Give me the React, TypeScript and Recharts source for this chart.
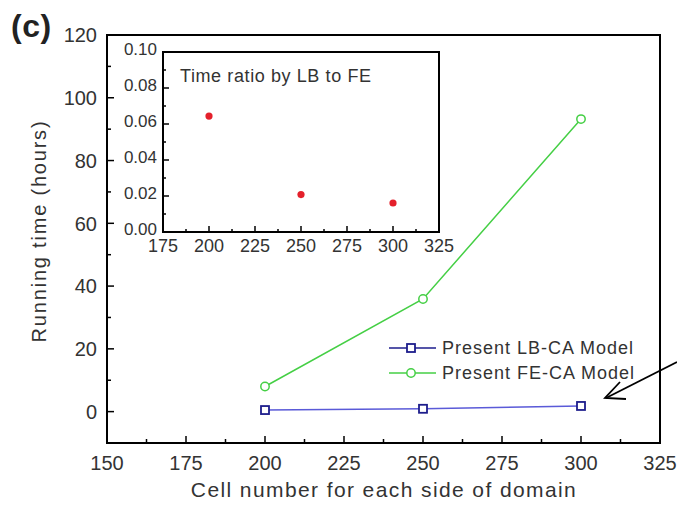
import React from "react";
import {
  LineChart,
  Line,
  XAxis,
  YAxis,
  ReferenceArea,
  Legend,
} from "recharts";

// Main chart: running time (hours) vs. cell number per side
const cellNumbers = [200, 250, 300];
const lbHours = [0.5, 0.9, 1.8];
const feHours = [8.0, 35.9, 93.2];

// Inset: time ratio LB / FE
const ratioValues = [0.0644, 0.0208, 0.0161];

const mainXTicks = [150, 162.5, 175, 187.5, 200, 212.5, 225, 237.5, 250, 262.5, 275, 287.5, 300, 312.5, 325];
const mainYTicks = [-10, 0, 10, 20, 30, 40, 50, 60, 70, 80, 90, 100, 110, 120];
const insetXTicks = [175, 187.5, 200, 212.5, 225, 237.5, 250, 262.5, 275, 287.5, 300, 312.5, 325];
const insetYTicks = [0, 0.01, 0.02, 0.03, 0.04, 0.05, 0.06, 0.07, 0.08, 0.09, 0.1];

const FONT = '"Liberation Sans", Arial, sans-serif';
const TEXT = "#333";
const GREEN = "#45cf45";
const BLUE_LINE = "#5a5ad8";
const NAVY = "#1d1d8c";
const RED = "#e4202b";

const mainData = cellNumbers.map((n, i) => ({ n, lb: lbHours[i], fe: feHours[i] }));
const insetData = cellNumbers.map((n, i) => ({ n, ratio: ratioValues[i] }));

type TickOpts = {
  isMajor: (v: number) => boolean;
  format: (v: number) => string;
  major: number;
  minor: number;
  offset: number;
  fontSize: number;
  lift?: number;
};

const makeBottomTick = (o: TickOpts) => (props: any) => {
  const { x, y, payload } = props;
  const v = payload.value;
  const big = o.isMajor(v);
  return (
    <g>
      <line x1={x} x2={x} y1={y} y2={y - (big ? o.major : o.minor)} stroke="#000" strokeWidth={1.5} />
      {big && (
        <text x={x} y={y + o.offset} textAnchor="middle" fontSize={o.fontSize} fill={TEXT} fontFamily={FONT}>
          {o.format(v)}
        </text>
      )}
    </g>
  );
};

const makeLeftTick = (o: TickOpts) => (props: any) => {
  const { x, y, payload } = props;
  const v = payload.value;
  const big = o.isMajor(v);
  return (
    <g>
      <line x1={x} x2={x + (big ? o.major : o.minor)} y1={y} y2={y} stroke="#000" strokeWidth={1.5} />
      {big && (
        <text x={x - o.offset} y={y - (o.lift ?? 0)} dy="0.36em" textAnchor="end" fontSize={o.fontSize}
          fill={TEXT} fontFamily={FONT}>
          {o.format(v)}
        </text>
      )}
    </g>
  );
};

const mainXTick = makeBottomTick({
  isMajor: (v) => v % 25 === 0,
  format: (v) => String(v),
  major: 7,
  minor: 4,
  offset: 27,
  fontSize: 20,
});
const mainYTick = makeLeftTick({
  isMajor: (v) => v >= 0 && v % 20 === 0,
  format: (v) => String(v),
  major: 7,
  minor: 4,
  offset: 10,
  fontSize: 20,
});
const insetXTick = makeBottomTick({
  isMajor: (v) => v % 25 === 0,
  format: (v) => String(v),
  major: 6,
  minor: 3,
  offset: 20,
  fontSize: 18,
});
const insetYTick = makeLeftTick({
  isMajor: (v) => Math.round(v * 100) % 2 === 0,
  format: (v) => v.toFixed(2),
  major: 6,
  minor: 3,
  offset: 6,
  fontSize: 17,
  lift: 3,
});

const SquareDot = (props: any) => {
  const { cx, cy, index } = props;
  return <rect key={`sq-${index}`} x={cx - 4} y={cy - 4} width={8} height={8} fill="#fff" stroke={NAVY} strokeWidth={1.8} />;
};

const renderLegend = () => (
  <svg width={270} height={52} style={{ display: "block" }}>
    <line x1={4} x2={51} y1={11} y2={11} stroke={NAVY} strokeWidth={1.5} />
    <rect x={22} y={7} width={8} height={8} fill="#fff" stroke={NAVY} strokeWidth={1.8} />
    <text x={57} y={17} fontSize={18} fill={TEXT} fontFamily={FONT} letterSpacing={1}>
      Present LB-CA Model
    </text>
    <line x1={4} x2={51} y1={36} y2={36} stroke={GREEN} strokeWidth={1.5} />
    <circle cx={26} cy={36} r={4.2} fill="#fff" stroke={GREEN} strokeWidth={1.5} />
    <text x={57} y={42} fontSize={18} fill={TEXT} fontFamily={FONT} letterSpacing={1}>
      Present FE-CA Model
    </text>
  </svg>
);

export default function App() {
  return (
    <div style={{ position: "absolute", left: 0, top: 0, width: 677, height: 505, background: "#fff" }}>
      <LineChart width={677} height={505} data={mainData} margin={{ top: 35, right: 17, bottom: 0, left: 0 }}>
        <XAxis
          dataKey="n"
          type="number"
          domain={[150, 325]}
          ticks={mainXTicks}
          interval={0}
          tickSize={0}
          tickMargin={0}
          tick={mainXTick}
          height={62}
          axisLine={{ stroke: "#000", strokeWidth: 2 }}
        />
        <YAxis
          type="number"
          domain={[-10, 120]}
          ticks={mainYTicks}
          interval={0}
          tickSize={0}
          tickMargin={0}
          tick={mainYTick}
          width={107}
          axisLine={{ stroke: "#000", strokeWidth: 2 }}
        />
        <ReferenceArea x1={150} x2={325} y1={-10} y2={120} fill="none" stroke="#000" strokeWidth={2} />
        <Line
          dataKey="lb"
          type="linear"
          stroke={BLUE_LINE}
          strokeWidth={1.5}
          dot={SquareDot}
          isAnimationActive={false}
        />
        <Line
          dataKey="fe"
          type="linear"
          stroke={GREEN}
          strokeWidth={1.5}
          dot={{ r: 4.2, fill: "#fff", stroke: GREEN, strokeWidth: 1.5 }}
          isAnimationActive={false}
        />
        <Legend
          layout="horizontal"
          verticalAlign="middle"
          align="center"
          content={renderLegend}
          wrapperStyle={{ left: 385, top: 337, width: 270 }}
        />
      </LineChart>

      {/* inset */}
      <div style={{ position: "absolute", left: 100, top: 40, width: 365, height: 222 }}>
        <LineChart width={365} height={222} data={insetData} margin={{ top: 12, right: 26, bottom: 0, left: 0 }}>
          <XAxis
            dataKey="n"
            type="number"
            domain={[175, 325]}
            ticks={insetXTicks}
            interval={0}
            tickSize={0}
            tickMargin={0}
            tick={insetXTick}
            height={30}
            axisLine={{ stroke: "#000", strokeWidth: 2 }}
          />
          <YAxis
            type="number"
            domain={[0, 0.1]}
            ticks={insetYTicks}
            interval={0}
            tickSize={0}
            tickMargin={0}
            tick={insetYTick}
            width={63}
            axisLine={{ stroke: "#000", strokeWidth: 2 }}
          />
          <ReferenceArea x1={175} x2={325} y1={0} y2={0.1} fill="#fff" fillOpacity={1} stroke="#000" strokeWidth={2} />
          <Line
            dataKey="ratio"
            stroke="none"
            dot={{ r: 3.6, fill: RED, stroke: "none" }}
            isAnimationActive={false}
          />
        </LineChart>
        <div
          style={{
            position: "absolute",
            left: 80,
            top: 26,
            fontFamily: FONT,
            fontSize: 18,
            letterSpacing: 0.6,
            color: TEXT,
            whiteSpace: "nowrap",
          }}
        >
          Time ratio by LB to FE
        </div>
      </div>

      {/* panel label, axis titles, arrow */}
      <svg width={677} height={505} style={{ position: "absolute", left: 0, top: 0, pointerEvents: "none" }}>
        <text x={11} y={37} fontSize={32} fontWeight="bold" fill="#222" fontFamily={FONT} letterSpacing={0.5}>
          (c)
        </text>
        <text
          transform="translate(39,231) rotate(-90)"
          textAnchor="middle"
          dy="0.36em"
          fontSize={20}
          fill={TEXT}
          fontFamily={FONT}
          letterSpacing={1.8}
        >
          Running time (hours)
        </text>
        <text x={384} y={497} textAnchor="middle" fontSize={21} fill={TEXT} fontFamily={FONT} letterSpacing={1.4}>
          Cell number for each side of domain
        </text>
        <line x1={677} y1={362} x2={606} y2={398} stroke="#000" strokeWidth={1.8} />
        <polyline points="620,382 605,398 626,399" fill="none" stroke="#000" strokeWidth={1.8} />
      </svg>
    </div>
  );
}
